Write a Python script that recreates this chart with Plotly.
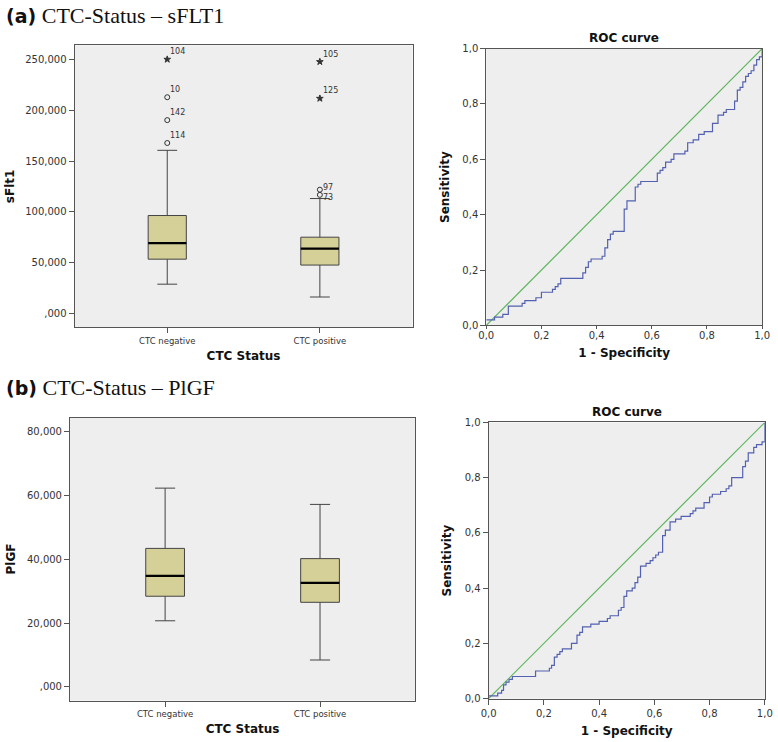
import plotly.graph_objects as go

# ---- data ----
groups = ["CTC negative", "CTC positive"]

# (a) sFlt1 box stats
sflt_q1 = [53.6, 47.8]
sflt_median = [69.4, 63.9]
sflt_q3 = [96.5, 75.2]
sflt_low = [29.0, 16.4]
sflt_high = [160.6, 113.2]
sflt_out_group = [0, 0, 0, 0, 1, 1, 1, 1]
sflt_out_value = [167.8, 190.3, 212.8, 250.0, 116.8, 121.9, 211.6, 247.7]
sflt_out_id = ["114", "142", "10", "104", "73", "97", "125", "105"]
sflt_out_extreme = [False, False, False, True, False, False, True, True]
sflt_ticks = [0, 50, 100, 150, 200, 250]
sflt_ticktext = [",000", "50,000", "100,000", "150,000", "200,000", "250,000"]

# (b) PlGF box stats
plgf_q1 = [28.4, 26.5]
plgf_median = [34.8, 32.6]
plgf_q3 = [43.4, 40.2]
plgf_low = [20.7, 8.4]
plgf_high = [62.3, 57.2]
plgf_ticks = [0, 20, 40, 60, 80]
plgf_ticktext = [",000", "20,000", "40,000", "60,000", "80,000"]

# ROC curves (step corners: 1 - specificity, sensitivity)
roc_a_fpr = [0, 0.03, 0.06, 0.08, 0.13, 0.14, 0.18, 0.20, 0.24, 0.25, 0.26, 0.27, 0.35,
             0.36, 0.37, 0.38, 0.42, 0.43, 0.44, 0.45, 0.46, 0.50, 0.51, 0.54, 0.55, 0.56,
             0.62, 0.63, 0.64, 0.65, 0.67, 0.68, 0.72, 0.73, 0.75, 0.77, 0.79, 0.82, 0.84,
             0.86, 0.87, 0.90, 0.91, 0.92, 0.93, 0.94, 0.95, 0.96, 0.97, 0.98, 0.99, 1.0]
roc_a_tpr = [0.02, 0.03, 0.04, 0.07, 0.08, 0.09, 0.10, 0.12, 0.13, 0.14, 0.15, 0.17, 0.19,
             0.21, 0.23, 0.24, 0.25, 0.28, 0.31, 0.33, 0.34, 0.42, 0.45, 0.50, 0.51, 0.52,
             0.55, 0.56, 0.57, 0.59, 0.60, 0.62, 0.63, 0.66, 0.67, 0.69, 0.70, 0.73, 0.76,
             0.77, 0.78, 0.81, 0.85, 0.86, 0.88, 0.90, 0.91, 0.92, 0.94, 0.96, 0.97, 1.0]
roc_b_fpr = [0, 0.02, 0.033, 0.047, 0.054, 0.063, 0.074, 0.086, 0.17, 0.22, 0.228, 0.238,
             0.248, 0.258, 0.267, 0.30, 0.32, 0.33, 0.34, 0.37, 0.40, 0.43, 0.44, 0.47, 0.48,
             0.49, 0.50, 0.52, 0.53, 0.54, 0.55, 0.57, 0.585, 0.595, 0.605, 0.615, 0.63, 0.64,
             0.657, 0.677, 0.697, 0.73, 0.74, 0.75, 0.78, 0.80, 0.81, 0.84, 0.86, 0.87, 0.88,
             0.92, 0.93, 0.94, 0.96, 0.97, 0.99, 1.0]
roc_b_tpr = [0.01, 0.01, 0.02, 0.03, 0.05, 0.06, 0.07, 0.08, 0.10, 0.11, 0.12, 0.15, 0.16,
             0.17, 0.18, 0.20, 0.23, 0.24, 0.26, 0.27, 0.28, 0.29, 0.30, 0.32, 0.33, 0.37,
             0.39, 0.40, 0.42, 0.44, 0.48, 0.49, 0.50, 0.51, 0.52, 0.53, 0.59, 0.61, 0.64,
             0.65, 0.66, 0.67, 0.68, 0.69, 0.71, 0.73, 0.74, 0.75, 0.76, 0.77, 0.80, 0.84,
             0.86, 0.89, 0.91, 0.92, 0.93, 1.0]
ref_line = [0, 1]

W, H = 778, 742
BOX_FILL = "#D5CF98"
BG = "#EEEEEE"
AXC = "#555555"
TICKF = dict(family="DejaVu Sans", size=10, color="#333333")
TITLEF = dict(family="DejaVu Sans", size=12, color="#111111")
BOXW = 0.25


def px_x(a, b):
    return [a / W, b / W]


def px_y(top, bottom):
    return [1 - bottom / H, 1 - top / H]


def add_box(fig, xa, ya, q1, med, q3, lo, hi):
    pos = list(range(len(groups)))
    fig.add_trace(go.Box(x=pos, q1=q1, median=med, q3=q3, lowerfence=lo, upperfence=hi,
                         fillcolor=BOX_FILL, line=dict(color="#444444", width=1),
                         width=BOXW, whiskerwidth=0.52, boxpoints=False,
                         showlegend=False, xaxis=xa, yaxis=ya))
    mx, my = [], []
    for i, m in enumerate(med):
        mx += [i - BOXW / 2, i + BOXW / 2, None]
        my += [m, m, None]
    fig.add_trace(go.Scatter(x=mx, y=my, mode="lines", line=dict(color="black", width=2.2),
                             showlegend=False, xaxis=xa, yaxis=ya, hoverinfo="skip"))


fig = go.Figure()

# (a) boxplot
add_box(fig, "x", "y", sflt_q1, sflt_median, sflt_q3, sflt_low, sflt_high)
for extreme, sym in [(False, "circle-open"), (True, "star")]:
    idx = [i for i, e in enumerate(sflt_out_extreme) if e == extreme]
    fig.add_trace(go.Scatter(
        x=[sflt_out_group[i] for i in idx], y=[sflt_out_value[i] for i in idx],
        mode="markers",
        marker=dict(symbol=sym, size=5, color="#333333", line=dict(color="#333333", width=1)),
        showlegend=False, xaxis="x", yaxis="y"))

# case numbers next to the outliers
label_shift = {"97": ("middle", 2), "73": ("middle", -3)}
for g, v, cid in zip(sflt_out_group, sflt_out_value, sflt_out_id):
    anchor, ys = label_shift.get(cid, ("bottom", 1))
    fig.add_annotation(x=g, y=v, xref="x", yref="y", text=cid, showarrow=False,
                       xanchor="left", yanchor=anchor, xshift=1, yshift=ys,
                       font=dict(family="DejaVu Sans", size=8, color="#333333"))

# (b) boxplot
add_box(fig, "x3", "y3", plgf_q1, plgf_median, plgf_q3, plgf_low, plgf_high)

# ROC curves
for fpr, tpr, xa, ya in [(roc_a_fpr, roc_a_tpr, "x2", "y2"), (roc_b_fpr, roc_b_tpr, "x4", "y4")]:
    fig.add_trace(go.Scatter(x=ref_line, y=ref_line, mode="lines",
                             line=dict(color="#5DB55D", width=1.2), showlegend=False,
                             xaxis=xa, yaxis=ya, cliponaxis=False))
    fig.add_trace(go.Scatter(x=fpr, y=tpr, mode="lines", line_shape="hv",
                             line=dict(color="#5361B0", width=1.2), showlegend=False,
                             xaxis=xa, yaxis=ya, cliponaxis=False))

common = dict(showline=True, mirror=True, linecolor=AXC, linewidth=1, ticks="outside",
              ticklen=5, tickcolor=AXC, tickfont=TICKF, showgrid=False, zeroline=False)

cat_axis = dict(common, tickvals=[0, 1], ticktext=groups,
                tickfont=dict(family="DejaVu Sans", size=8.5, color="#333333"),
                title=dict(text="<b>CTC Status</b>", font=TITLEF, standoff=6))
roc_x = dict(common, range=[0, 1], dtick=0.2, tickformat=".1f",
             title=dict(text="<b>1 - Specificity</b>", font=TITLEF, standoff=8))
roc_y = dict(common, range=[0, 1], dtick=0.2, tickformat=".1f",
             title=dict(text="<b>Sensitivity</b>", font=TITLEF, standoff=10))

fig.update_layout(
    width=W, height=H, margin=dict(l=0, r=0, t=0, b=0),
    paper_bgcolor="white", plot_bgcolor=BG, separators=",.",
    xaxis=dict(cat_axis, domain=px_x(68, 413), range=[-0.607, 1.607], anchor="y"),
    yaxis=dict(common, domain=px_y(40, 326.7), range=[-13.5, 263.8], anchor="x",
               tickvals=sflt_ticks, ticktext=sflt_ticktext,
               title=dict(text="<b>sFlt1</b>", font=TITLEF, standoff=8)),
    xaxis2=dict(roc_x, domain=px_x(488.3, 770), anchor="y2", ticklen=3,
                ticklabelstandoff=-2),
    yaxis2=dict(roc_y, domain=px_y(43.3, 324.7), anchor="x2"),
    xaxis3=dict(cat_axis, domain=px_x(63.3, 415.7), range=[-0.614, 1.614], anchor="y3"),
    yaxis3=dict(common, domain=px_y(418.3, 706), range=[-4.32, 84.44], anchor="x3",
                tickvals=plgf_ticks, ticktext=plgf_ticktext,
                title=dict(text="<b>PlGF</b>", font=TITLEF, standoff=8)),
    xaxis4=dict(roc_x, domain=px_x(490.7, 772.7), anchor="y4"),
    yaxis4=dict(roc_y, domain=px_y(423.3, 704), anchor="x4"),
)

panel_titles = [("(a)", "CTC-Status – sFLT1", 10), ("(b)", "CTC-Status – PlGF", 388)]
for tag, txt, ypx in panel_titles:
    fig.add_annotation(
        xref="paper", yref="paper", x=-4 / W, y=1 - ypx / H, xanchor="left", yanchor="middle",
        showarrow=False,
        text="<span style='font-family:DejaVu Sans;font-size:19px'><b>" + tag + "</b></span> " + txt,
        font=dict(family="Liberation Serif", size=22, color="#111111"))

for xa, ypx in [("x2", 32.7), ("x4", 412.7)]:
    dom = fig.layout["xaxis" + xa[1:]].domain
    fig.add_annotation(xref="paper", yref="paper", x=(dom[0] + dom[1]) / 2, y=1 - ypx / H,
                       xanchor="center", yanchor="middle", showarrow=False,
                       text="<b>ROC curve</b>", font=TITLEF)

fig.write_html("out.html", config={"displayModeBar": False},
               post_script="document.body.style.margin='0px';"
                           "document.body.style.overflow='hidden';")
